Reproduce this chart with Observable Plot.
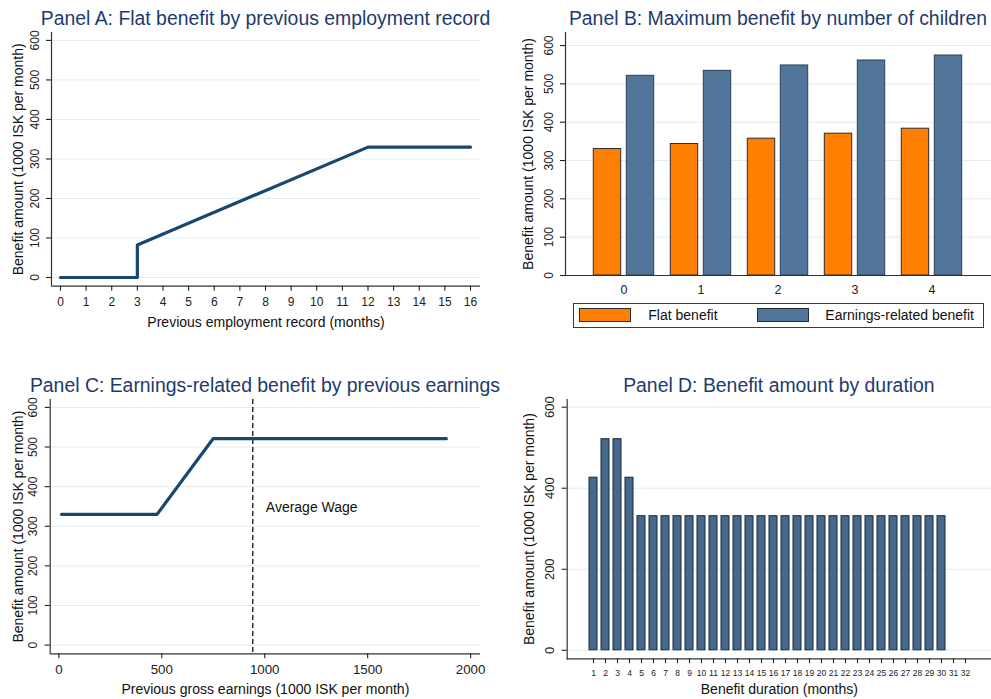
<!DOCTYPE html>
<html><head><meta charset="utf-8">
<script src="https://cdn.jsdelivr.net/npm/d3@7"></script>
<script src="https://cdn.jsdelivr.net/npm/@observablehq/plot@0.6"></script>
<style>
body{margin:0;background:#fff;font-family:"Liberation Sans",Arial,sans-serif;}
#root{position:relative;width:991px;height:699px;overflow:hidden;background:#fff;}
.panel{position:absolute;}
.title{position:absolute;font-size:19.4px;line-height:19.4px;color:#1e3a6e;white-space:nowrap;transform:translateX(-50%);}
#legend{position:absolute;left:573px;top:302.7px;width:410.5px;height:25px;border:1.2px solid #3a3a3a;box-sizing:border-box;}
.sw{position:absolute;width:52px;height:14px;box-sizing:border-box;border:1px solid #2a2a30;}
.lt{position:absolute;font-size:14px;line-height:14px;color:#111;white-space:nowrap;}
</style></head>
<body>
<div id="root"></div>
<script>
// ---- data ----
const employMonths = [0, 3, 3, 12, 16];
const flatByRecord = [0, 0, 82.5, 330, 330];
const recordTicks = [0,1,2,3,4,5,6,7,8,9,10,11,12,13,14,15,16];

const childCounts = [0, 1, 2, 3, 4];
const flatByChildren = [330, 343, 357, 370, 383];
const earningsByChildren = [521, 534, 548, 561, 574];
const seriesNames = ["Flat benefit", "Earnings-related benefit"];
const seriesColors = ["#ff7f00", "#52759a"];

const prevEarnings = [13, 477, 749, 1882];
const earnBenefit = [330, 330, 521, 521];
const averageWage = 942;
const earningsTicks = [0, 500, 1000, 1500, 2000];

const durationMonths = [1,2,3,4,5,6,7,8,9,10,11,12,13,14,15,16,17,18,19,20,21,22,23,24,25,26,27,28,29,30];
const durationBenefit = [426,521,521,426,331,331,331,331,331,331,331,331,331,331,331,331,331,331,331,331,331,331,331,331,331,331,331,331,331,331];
const durationTicks = [1,2,3,4,5,6,7,8,9,10,11,12,13,14,15,16,17,18,19,20,21,22,23,24,25,26,27,28,29,30,31,32];

const benefitTicks = [0, 100, 200, 300, 400, 500, 600];
const durationBenefitTicks = [0, 200, 400, 600];

const titles = [
  "Panel A: Flat benefit by previous employment record",
  "Panel B: Maximum benefit by number of children",
  "Panel C: Earnings-related benefit by previous earnings",
  "Panel D: Benefit amount by duration"
];
const yLabel = "Benefit amount (1000 ISK per month)";

// ---- helpers ----
const root = document.getElementById("root");
const FONT = "Liberation Sans, Arial, sans-serif";
const axisStyle = {stroke: "#333", strokeWidth: 1.2};
const gridStyle = {stroke: "#e3ecef", strokeOpacity: 1, strokeWidth: 1};
const plain = d => String(d);
function place(el, left, top) {
  const d = document.createElement("div");
  d.className = "panel"; d.style.left = left + "px"; d.style.top = top + "px";
  d.appendChild(el); root.appendChild(d);
}
function title(text, cx, baseline) {
  const t = document.createElement("div");
  t.className = "title"; t.textContent = text;
  t.style.left = cx + "px"; t.style.top = (baseline - 16.4) + "px";
  root.appendChild(t);
}
function yTitle(dx) {
  return Plot.text([yLabel], {text: d => d, frameAnchor: "left", textAnchor: "middle", lineAnchor: "middle", rotate: -90, dx, fontSize: 14, fill: "#111"});
}
function xTitle(label, dy) {
  return Plot.text([label], {text: d => d, frameAnchor: "bottom", textAnchor: "middle", lineAnchor: "middle", dy, fontSize: 14, fill: "#111"});
}
function yAxis(ticks, fs, pad) {
  return Plot.axisY(ticks, {tickSize: 5, tickPadding: pad, tickRotate: -90, fontSize: fs, color: "#222", label: null, strokeWidth: 1.1, tickFormat: plain});
}

// ---- Panel A ----
const aData = employMonths.map((m, i) => ({m, v: flatByRecord[i]}));
place(Plot.plot({
  width: 495, height: 340, marginLeft: 51, marginRight: 15, marginTop: 32, marginBottom: 54.3,
  style: {fontFamily: FONT, background: "transparent"},
  x: {domain: [-0.35, 16.39]}, y: {domain: [-22, 620]},
  marks: [
    Plot.gridY(benefitTicks, gridStyle),
    Plot.ruleX([-0.35], axisStyle),
    Plot.ruleY([-22], axisStyle),
    yAxis(benefitTicks, 12, 7.5),
    Plot.axisX(recordTicks, {tickSize: 5, tickPadding: 6.3, fontSize: 12, color: "#222", label: null, strokeWidth: 1.1, tickFormat: plain}),
    Plot.line(aData, {x: "m", y: "v", stroke: "#1a476f", strokeWidth: 3.2}),
    yTitle(-33),
    xTitle("Previous employment record (months)", 36.3)
  ]
}), 0, 0);

// ---- Panel B ----
const bData = childCounts.flatMap((c, i) => [
  {c, s: seriesNames[0], v: flatByChildren[i]},
  {c, s: seriesNames[1], v: earningsByChildren[i]}
]);
place(Plot.plot({
  width: 496, height: 340, marginLeft: 70, marginRight: 0, marginTop: 32, marginBottom: 65,
  style: {fontFamily: FONT, background: "transparent"},
  x: {domain: childCounts, range: [88.5, 476.5], padding: 0},
  y: {domain: [0, 634]},
  color: {domain: seriesNames, range: seriesColors},
  marks: [
    Plot.gridY(benefitTicks, gridStyle),
    Plot.barY(bData.filter(d => d.s === seriesNames[0]), {x: "c", y: "v", fill: "s", stroke: "#2b2b35", strokeWidth: 1, insetLeft: 8.3, insetRight: 41.3}),
    Plot.barY(bData.filter(d => d.s === seriesNames[1]), {x: "c", y: "v", fill: "s", stroke: "#2a3f58", strokeWidth: 1, insetLeft: 41.3, insetRight: 8.3}),
    Plot.frame({anchor: "left", ...axisStyle}),
    Plot.ruleY([0], axisStyle),
    yAxis(benefitTicks, 12, 8),
    Plot.axisX({tickSize: 0, tickPadding: 9.7, fontSize: 12.5, color: "#222", label: null, tickFormat: plain}),
    yTitle(-37)
  ]
}), 495, 0);

// legend
const legend = document.createElement("div");
legend.id = "legend";
const swLeft = [5, 182.7], txLeft = [74.3, 251.3];
seriesNames.forEach((name, i) => {
  const sw = document.createElement("div");
  sw.className = "sw"; sw.style.left = swLeft[i] + "px"; sw.style.top = "4.6px"; sw.style.background = seriesColors[i];
  legend.appendChild(sw);
  const tx = document.createElement("div");
  tx.className = "lt"; tx.textContent = name; tx.style.left = txLeft[i] + "px"; tx.style.top = "4.2px";
  legend.appendChild(tx);
});
root.appendChild(legend);

// ---- Panel C ----
const cData = prevEarnings.map((e, i) => ({e, v: earnBenefit[i]}));
place(Plot.plot({
  width: 495, height: 339, marginLeft: 49.7, marginRight: 15, marginTop: 39, marginBottom: 45.7,
  style: {fontFamily: FONT, background: "transparent"},
  x: {domain: [-42, 2048]}, y: {domain: [-22, 620]},
  marks: [
    Plot.gridY(benefitTicks, gridStyle),
    Plot.ruleX([-42], axisStyle),
    Plot.ruleY([-22], axisStyle),
    yAxis(benefitTicks, 12, 8),
    Plot.axisX(earningsTicks, {tickSize: 5, tickPadding: 6, fontSize: 13.3, color: "#222", label: null, strokeWidth: 1.1, tickFormat: plain}),
    Plot.ruleX([averageWage], {stroke: "#111", strokeWidth: 1.3, strokeDasharray: "5,3"}),
    Plot.text([averageWage], {x: d => d, text: () => "Average Wage", frameAnchor: "middle", textAnchor: "start", dx: 13, dy: -19.5, fontSize: 14, fill: "#111"}),
    Plot.line(cData, {x: "e", y: "v", stroke: "#1a476f", strokeWidth: 3.2}),
    yTitle(-31.4),
    xTitle("Previous gross earnings (1000 ISK per month)", 35.7)
  ]
}), 0, 360);

// ---- Panel D ----
const dData = durationMonths.map((m, i) => ({m, v: durationBenefit[i]}));
place(Plot.plot({
  width: 496, height: 339, marginLeft: 71.7, marginRight: 0, marginTop: 39, marginBottom: 40.7,
  style: {fontFamily: FONT, background: "transparent"},
  x: {domain: durationTicks, paddingInner: 0.3, paddingOuter: 0.745, align: 0.5},
  y: {domain: [-21, 619]},
  marks: [
    Plot.gridY(durationBenefitTicks, gridStyle),
    Plot.barY(dData, {x: "m", y: "v", fill: "#47698c", stroke: "#17293d", strokeWidth: 1}),
    Plot.frame({anchor: "left", ...axisStyle}),
    Plot.ruleY([-21], axisStyle),
    yAxis(durationBenefitTicks, 13, 8),
    Plot.axisX({tickSize: 5, tickPadding: 5.7, fontSize: 8.5, color: "#222", label: null, strokeWidth: 1.1, tickFormat: plain}),
    yTitle(-37.7),
    xTitle("Benefit duration (months)", 30.7)
  ]
}), 495, 360);

// titles
title(titles[0], 265.5, 25);
title(titles[1], 778, 25);
title(titles[2], 264.9, 392);
title(titles[3], 778.9, 392);
</script>
</body></html>
